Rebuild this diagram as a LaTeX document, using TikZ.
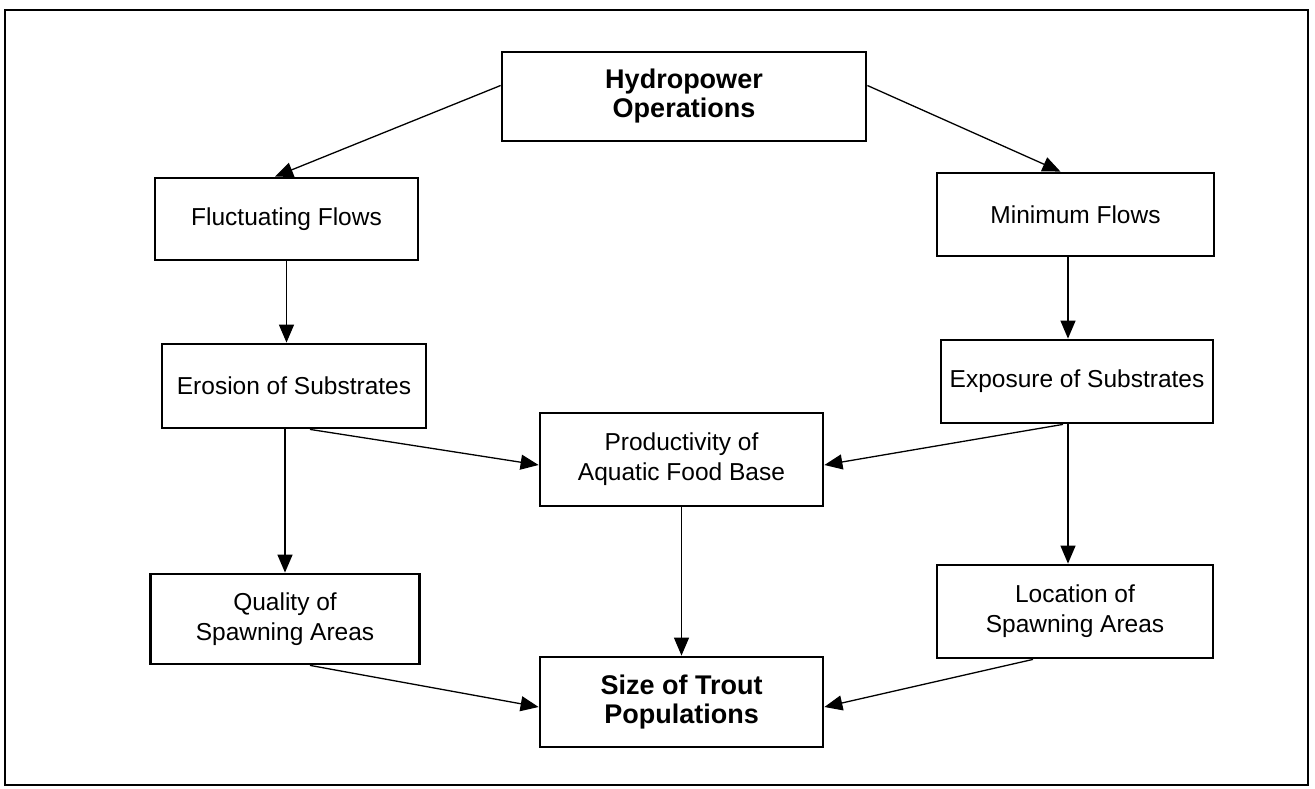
\documentclass[tikz,border=0pt]{standalone}
\usepackage{fontspec}
\setmainfont{Liberation Sans}
\usetikzlibrary{arrows.meta}

\begin{document}
\begin{tikzpicture}[x=1pt,y=-1pt,
    box/.style={draw, line width=2.8pt, inner sep=0pt, align=center,
        font=\fontsize{24.5}{30}\selectfont},
    bigbox/.style={box, font=\bfseries\fontsize{27}{29}\selectfont},
    conn/.style={line width=1.3pt, -{Triangle[length=18pt,width=15pt]}}]
    \useasboundingbox (0,0) rectangle (1315,789);
    \draw[line width=2.8pt] (5,10) rectangle (1308,785);
    % boxes
    \node[bigbox, minimum width=364pt, minimum height=89pt] (hydro) at (684,96.5) {Hydropower\\Operations};
    \node[box, minimum width=263pt, minimum height=82pt] (fluct) at (286.5,219) {Fluctuating Flows};
    \node[box, minimum width=277pt, minimum height=83pt] (minf) at (1075.5,214.5) {Minimum Flows};
    \node[box, minimum width=264pt, minimum height=84pt] (eros) at (294,386) {Erosion of Substrates};
    \node[box, minimum width=272pt, minimum height=83pt] (expo) at (1077,381.5) {Exposure of Substrates};
    \node[box, minimum width=283pt, minimum height=93pt] (prod) at (681.5,459.5) {Productivity of\\Aquatic Food Base};
    \node[box, minimum width=269pt, minimum height=90pt] (qual) at (285,619) {Quality of\\Spawning Areas};
    \node[box, minimum width=276pt, minimum height=93pt] (loc) at (1075,611.5) {Location of\\Spawning Areas};
    \node[bigbox, minimum width=283pt, minimum height=90pt] (size) at (681.5,702) {Size of Trout\\Populations};
    % arrows
    \draw[conn] ([yshift=11pt]hydro.west) -- ([xshift=-11.5pt]fluct.north);
    \draw[conn] ([yshift=11pt]hydro.east) -- ([xshift=-15pt]minf.north);
    \draw[conn] (fluct.south) -- ([xshift=-7.5pt]eros.north);
    \draw[conn] ([xshift=-7.5pt]minf.south) -- ([xshift=-9pt]expo.north);
    \draw[conn] ([xshift=-9pt]eros.south) -- (qual.north);
    \draw[conn] ([xshift=16pt]eros.south) -- ([yshift=-5.5pt]prod.west);
    \draw[conn] ([xshift=-14pt]expo.south) -- ([yshift=-5.5pt]prod.east);
    \draw[conn] ([xshift=-9pt]expo.south) -- ([xshift=-7pt]loc.north);
    \draw[conn] (prod.south) -- (size.north);
    \draw[conn] ([xshift=25pt]qual.south) -- ([yshift=-5pt]size.west);
    \draw[conn] ([xshift=-42pt]loc.south) -- ([yshift=-5pt]size.east);
\end{tikzpicture}
\end{document}
